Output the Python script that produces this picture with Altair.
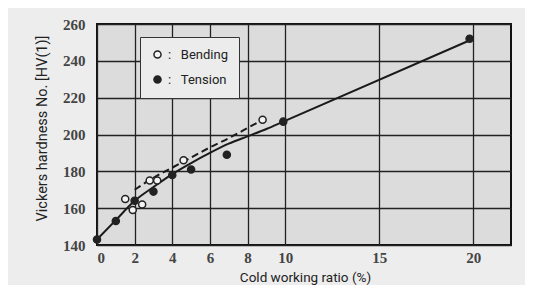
import altair as alt
import pandas as pd

# measured points
bend_x = [1.5, 1.9, 2.4, 2.8, 3.2, 4.6, 8.8]
bend_y = [165, 159, 162, 175, 175, 186, 208]
tens_x = [0, 1.0, 2.0, 3.0, 4.0, 5.0, 6.9, 9.9, 19.8]
tens_y = [143, 153, 164, 169, 178, 181, 189, 207, 252]

# fitted curves
curve_t_x = [0, 1, 2, 3, 4, 5, 6, 7, 8, 9, 9.9, 20]
curve_t_y = [143, 153.5, 164, 171.5, 178.5, 184.5, 190, 195, 199, 203, 207, 252]
curve_b_x = [2.0, 3, 4, 5, 6, 7, 8, 8.8]
curve_b_y = [170, 176.5, 182, 187.5, 193, 198, 203.5, 208]

x_ticks = [0, 2, 4, 6, 8, 10, 15, 20]
y_ticks = [140, 160, 180, 200, 220, 240, 260]

pts = pd.DataFrame({
    "x": bend_x + tens_x,
    "y": bend_y + tens_y,
    "series": ["Bending"] * len(bend_x) + ["Tension"] * len(tens_x),
})
ct = pd.DataFrame({"x": curve_t_x, "y": curve_t_y})
cb = pd.DataFrame({"x": curve_b_x, "y": curve_b_y})

xs = alt.Scale(domain=[0, 22], nice=False, zero=False)
ys = alt.Scale(domain=[140, 260], nice=False, zero=False)

xax = alt.Axis(values=x_ticks, tickCount=30, title="Cold working ratio (%)", grid=True,
               tickSize=0, labelPadding=5, domain=False, labelOverlap=False,
               titleY=32, titleBaseline="middle", titleX=208, titleAnchor="middle")
yax = alt.Axis(values=y_ticks, tickCount=30, title="Vickers hardness No. [HV(1)]", grid=True,
               tickSize=0, labelPadding=12, domain=False, labelOverlap=False,
               titleAngle=-90, titleX=-55, titleY=104, titleAlign="center",
               titleBaseline="middle")

line_t = alt.Chart(ct).mark_line(color="#1a1a1a", strokeWidth=2, interpolate="monotone").encode(
    x=alt.X("x:Q", scale=xs, axis=xax),
    y=alt.Y("y:Q", scale=ys, axis=yax),
)
line_b = alt.Chart(cb).mark_line(color="#1a1a1a", strokeWidth=2, strokeDash=[7, 4],
                                 interpolate="monotone").encode(
    x=alt.X("x:Q", scale=xs),
    y=alt.Y("y:Q", scale=ys),
)
points = alt.Chart(pts).mark_point(filled=True, stroke="#222", strokeWidth=1.5,
                                   size=50, shape="circle", opacity=1).encode(
    x=alt.X("x:Q", scale=xs),
    y=alt.Y("y:Q", scale=ys),
    fill=alt.Fill("series:N",
                  scale=alt.Scale(domain=["Bending", "Tension"], range=["#f4f4f4", "#222222"]),
                  legend=alt.Legend(title=None, orient="none", legendX=43, legendY=13,
                                    fillColor="#ececec", strokeColor="#333",
                                    padding=11, rowPadding=10,
                                    symbolType="circle", symbolSize=50,
                                    symbolStrokeColor="#222", symbolStrokeWidth=1.5,
                                    labelExpr="':\u00a0\u00a0\u00a0' + datum.label",
                                    labelFont="Roboto", labelFontSize=13, labelColor="#222",
                                    labelOffset=4)),
)

chart = (line_t + line_b + points).properties(
    width=414, height=221,
    autosize=alt.AutoSizeParams(type="none"),
    padding={"left": 89, "top": 16, "right": 14, "bottom": 40},
    background="#ededed",
).configure_view(
    fill="#dcdcdc", stroke="#111", strokeWidth=2,
).configure_axis(
    gridColor="#222", gridWidth=1.3, gridOpacity=1,
    labelFont="Liberation Serif", labelFontSize=15, labelFontWeight="bold", labelColor="#444",
    titleFont="Roboto", titleFontWeight="normal", titleColor="#222",
).configure_axisX(titleFontSize=13.5).configure_axisY(titleFontSize=14.5)

chart.save("out.html", embed_options={"renderer": "svg", "actions": False})
